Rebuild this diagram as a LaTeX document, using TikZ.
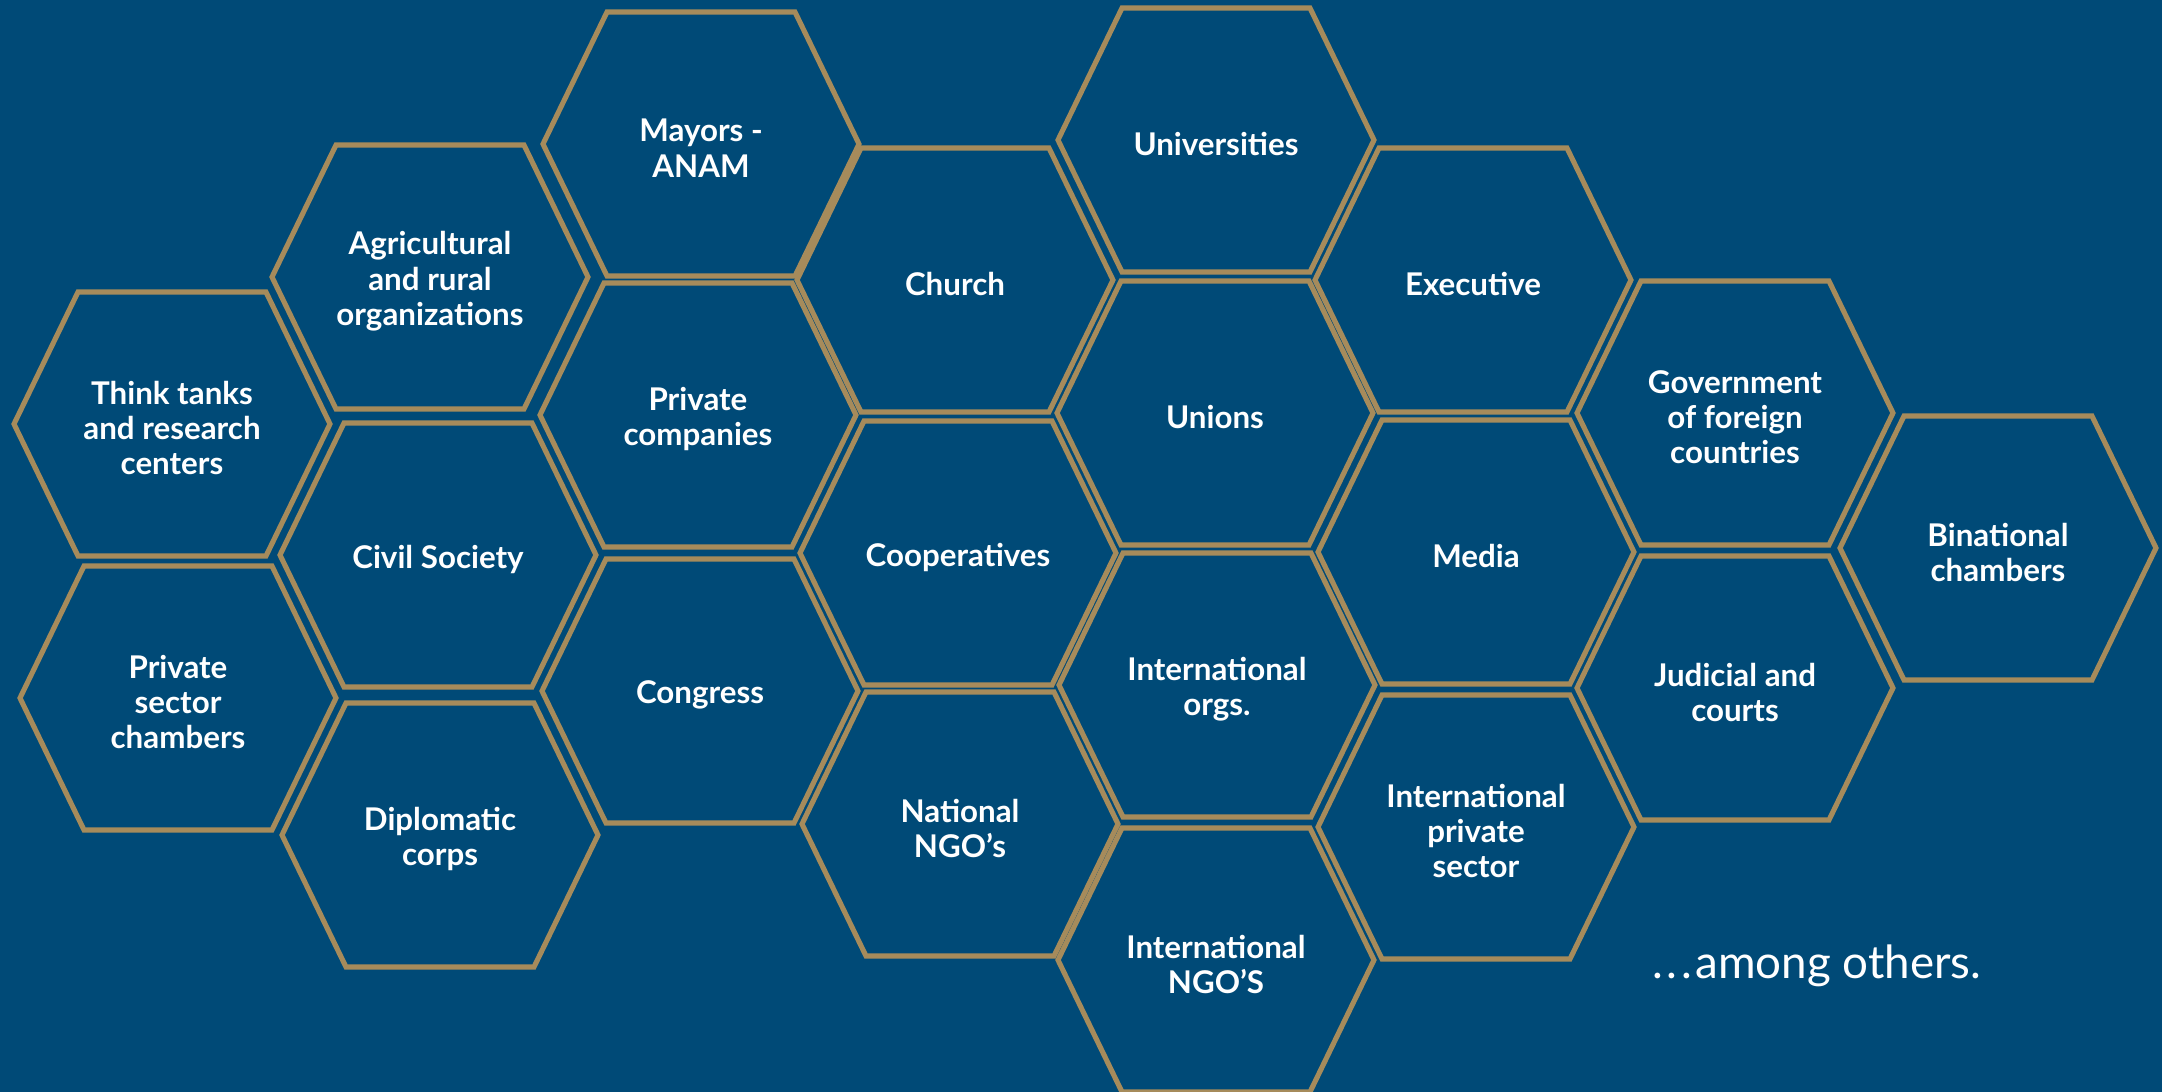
\documentclass[tikz,border=0pt]{standalone}
\usepackage{fontspec}
\setmainfont{Lato}
\usepackage{xcolor}
\definecolor{navy}{HTML}{004A77}
\definecolor{gold}{HTML}{A68B5B}
\tikzset{
  hexline/.style={draw=gold, line width=1.45pt, line join=miter},
  hexlabel/.style={text=white, font=\fontsize{8.9}{10}\selectfont\bfseries, align=center, inner sep=0pt, yshift=-1.2pt},
}

\begin{document}
\begin{tikzpicture}[x=0.01cm, y=-0.01cm]
  % Background
  \fill[navy] (0,0) rectangle (2162,1092);
  \useasboundingbox (0,0) rectangle (2162,1092);

  % Hexagon cells (label is shifted 4.2 units down, the outline is not)
  \foreach \nm/\cx/\cy/\txt in {
      think/172/424/{Think tanks\\and research\\centers},
      agri/430/277/{Agricultural\\and rural\\organizations},
      civil/438/555/{Civil Society},
      pschamb/178/698/{Private\\sector\\chambers},
      diplo/440/835/{Diplomatic\\corps},
      mayors/701/144/{Mayors -\\ANAM},
      privco/698/415/{Private\\companies},
      congress/700/691/{Congress},
      church/955/280/{Church},
      coop/958/553/{Cooperatives},
      natngo/960/824/{National\\NGO’s},
      univ/1216/140/{Universities},
      unions/1215/413/{Unions},
      intorg/1217/685/{International\\orgs.},
      intngo/1216/960/{International\\NGO’S},
      exec/1473/280/{Executive},
      media/1476/552/{Media},
      intpriv/1476/827/{International\\private\\sector},
      gov/1735/413/{Government\\of foreign\\countries},
      judicial/1735/688/{Judicial and\\courts},
      binat/1998/548/{Binational\\chambers}} {
    \node[hexlabel] (\nm) at (\cx,\cy) {\txt};
    \draw[hexline] (\nm.center) ++(-158,-4.2) -- ++(64,-132) -- ++(188,0)
      -- ++(64,132) -- ++(-64,132) -- ++(-188,0) -- cycle;
  }

  % Closing remark
  \node[text=white, font=\fontsize{13}{15}\selectfont] (others) at (1817,966) {.\kern1pt.\kern1pt.\kern1pt among others.};
\end{tikzpicture}
\end{document}
